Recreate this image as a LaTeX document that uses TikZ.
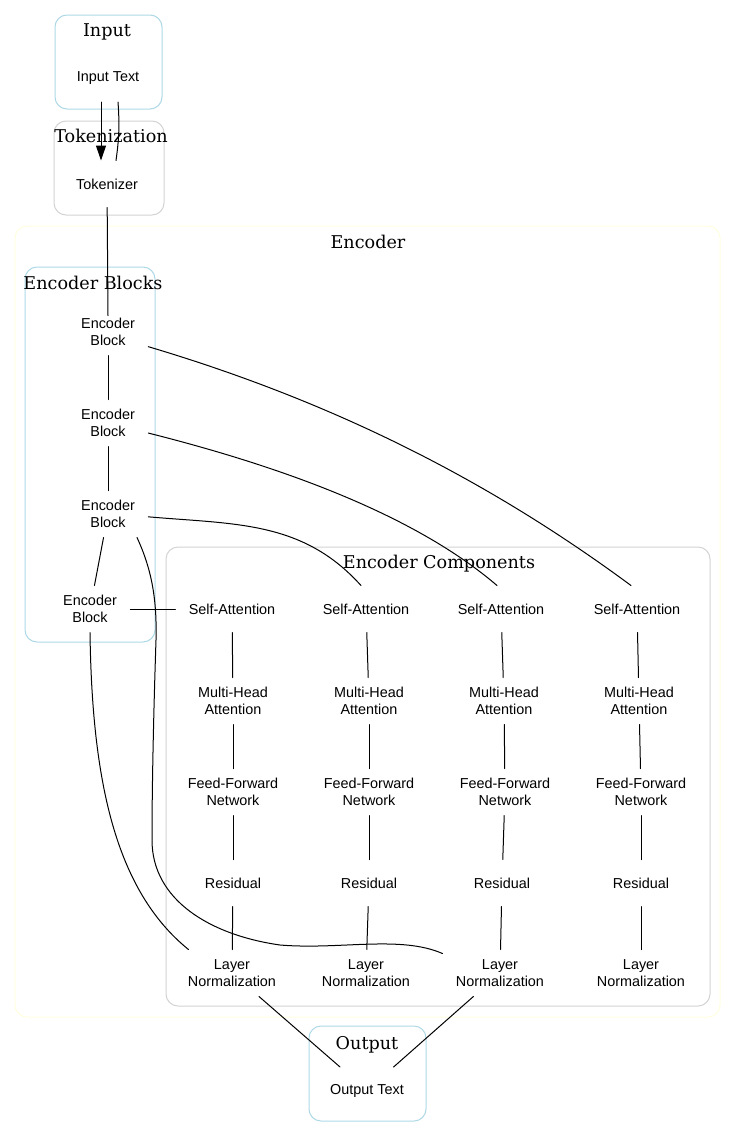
\documentclass[tikz,border=0pt]{standalone}
\usepackage{fontspec}
\setmainfont{Liberation Sans}
\newfontfamily\clusterfont{DejaVu Serif}
\usetikzlibrary{arrows.meta}
\definecolor{lblue}{HTML}{ADD8E6}
\definecolor{lgray}{HTML}{D3D3D3}
\definecolor{lyellow}{HTML}{FFFFE0}

\begin{document}
\begin{tikzpicture}[x=1pt, y=1pt, line width=1pt, line cap=round, line join=round,
    block/.style={inner xsep=13pt, inner ysep=0pt, minimum height=46pt, align=center,
                  font=\fontsize{14.4}{17.5}\selectfont},
    cluster/.style={rounded corners=12pt},
    clabel/.style={anchor=base, font=\clusterfont\fontsize{17.6}{20}\selectfont}]
    \useasboundingbox (0,0) rectangle (735,-1138);

    % Clusters
    \draw[cluster, lblue] (55,-15) rectangle (162,-109); % input
    \draw[cluster, lgray] (54,-121) rectangle (164,-215); % tokenization
    \draw[cluster, lyellow] (15,-226) rectangle (720,-1017); % encoder
    \draw[cluster, lblue] (25,-267) rectangle (155,-642); % encoder blocks
    \draw[cluster, lgray] (166,-547) rectangle (710,-1006); % encoder components
    \draw[cluster, lblue] (309,-1026) rectangle (426,-1121); % output

    % Cluster labels
    \node[clabel] (lblin) at (107,-36) {Input};
    \node[clabel] (lbltok) at (111,-142) {Tokenization};
    \node[clabel] (lblenc) at (368,-248) {Encoder};
    \node[clabel] (lblblk) at (93,-289) {Encoder Blocks};
    \node[clabel] (lblcmp) at (439,-568) {Encoder Components};
    \node[clabel] (lblout) at (367,-1049) {Output};

    % Input, tokenizer and output
    \node[block] (inp) at (108,-78.5) {Input Text};
    \node[block] (tok) at (107,-184) {Tokenizer};
    \node[block] (outp) at (367,-1090.5) {Output Text};

    % Encoder blocks
    \node[block] (eba) at (108,-332) {Encoder\\Block};
    \node[block] (ebb) at (108,-423) {Encoder\\Block};
    \node[block] (ebc) at (108,-514) {Encoder\\Block};
    \node[block] (ebd) at (90,-609) {Encoder\\Block};

    % Components, one column per block
    \node[block] (sa1) at (232,-609) {Self-Attention};
    \node[block] (sa2) at (366,-609) {Self-Attention};
    \node[block] (sa3) at (501,-609) {Self-Attention};
    \node[block] (sa4) at (637,-609) {Self-Attention};

    \node[block] (mh1) at (233,-701) {Multi-Head\\Attention};
    \node[block] (mh2) at (369,-701) {Multi-Head\\Attention};
    \node[block] (mh3) at (504,-701) {Multi-Head\\Attention};
    \node[block] (mh4) at (639,-701) {Multi-Head\\Attention};

    \node[block] (ff1) at (233,-792) {Feed-Forward\\Network};
    \node[block] (ff2) at (369,-792) {Feed-Forward\\Network};
    \node[block] (ff3) at (505,-792) {Feed-Forward\\Network};
    \node[block] (ff4) at (641,-792) {Feed-Forward\\Network};

    \node[block] (rs1) at (233,-883) {Residual};
    \node[block] (rs2) at (369,-883) {Residual};
    \node[block] (rs3) at (502,-883) {Residual};
    \node[block] (rs4) at (641,-883) {Residual};

    \node[block] (ln1) at (232,-973) {Layer\\Normalization};
    \node[block] (ln2) at (366,-973) {Layer\\Normalization};
    \node[block] (ln3) at (500,-973) {Layer\\Normalization};
    \node[block] (ln4) at (641,-973) {Layer\\Normalization};

    % Input to tokenizer (one arrow, one plain line back)
    \draw[-{Triangle[length=15pt,width=10pt]}] ([xshift=-7pt]inp.south) -- ([xshift=-6pt]tok.north);
    \draw ([xshift=9pt]tok.north) to[bend right=6] ([xshift=10pt]inp.south);

    % Chain of blocks
    \draw (tok) -- ([yshift=-7pt]eba.north);
    \draw (eba) -- (ebb);
    \draw (ebb) -- (ebc);
    \draw (ebc) -- (ebd);
    \draw (ebd) -- (sa1);

    % Blocks to components
    \draw (eba.-20) .. controls (341,-404) and (495,-485) .. ([xshift=-6pt]sa4.north);
    \draw (ebb.-14) .. controls (319,-476) and (430,-528) .. ([xshift=-4pt]sa3.north);
    \draw (ebc.-4) to[out=-5, in=132] ([xshift=-5pt]sa2.north);
    \draw (ebc.-39) .. controls (152,-570) and (157,-600) .. (156,-640)
        .. controls (154,-700) and (152,-780) .. (152,-840)
        .. controls (152,-900) and (210,-935) .. (280,-945)
        .. controls (340,-950) and (400,-935) .. ([yshift=-4pt]ln3.north west);
    \draw (ebd.south) .. controls (92,-780) and (115,-890) .. ([xshift=14pt]ln1.north west);

    % Columns
    \draw (sa1) -- (mh1); \draw (mh1) -- (ff1); \draw (ff1) -- (rs1); \draw (rs1) -- (ln1);
    \draw (sa2) -- (mh2); \draw (mh2) -- (ff2); \draw (ff2) -- (rs2); \draw (rs2) -- (ln2);
    \draw (sa3) -- (mh3); \draw (mh3) -- (ff3); \draw (ff3) -- (rs3); \draw (rs3) -- (ln3);
    \draw (sa4) -- (mh4); \draw (mh4) -- (ff4); \draw (ff4) -- (rs4); \draw (rs4) -- (ln4);

    % To output
    \draw (ln1) -- (outp);
    \draw (ln3) -- (outp);
\end{tikzpicture}
\end{document}
